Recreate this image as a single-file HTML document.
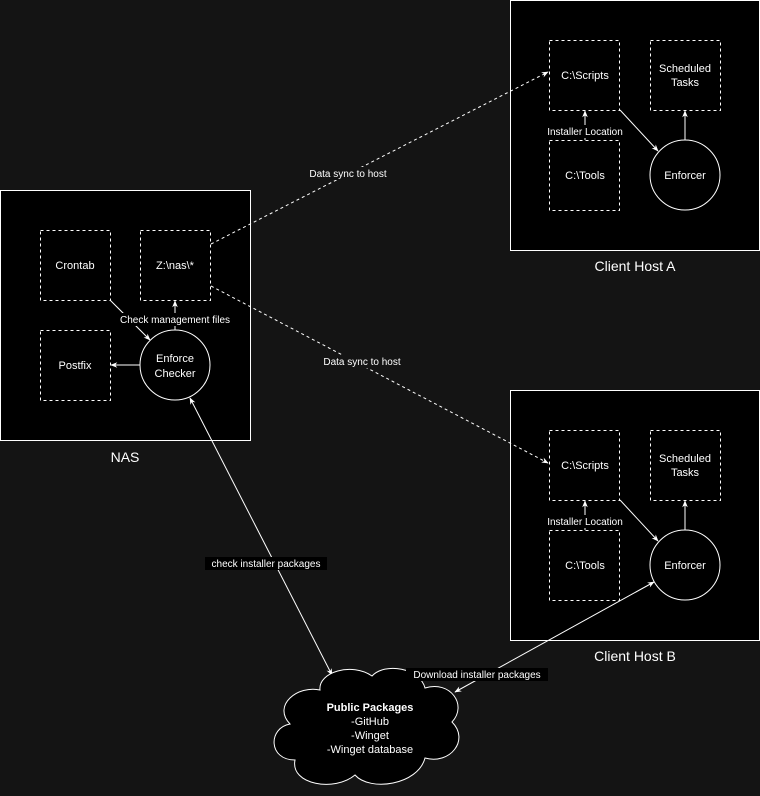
<!DOCTYPE html>
<html><head><style>
html,body{margin:0;padding:0;background:#141414;}
svg{display:block;font-family:"Liberation Sans",Arial,sans-serif;}
</style></head><body>
<svg width="760" height="796" viewBox="0 0 760 796" xmlns="http://www.w3.org/2000/svg">
<defs>
<marker id="a" viewBox="0 0 10 10" refX="9" refY="5" markerWidth="7" markerHeight="7" orient="auto-start-reverse"><path d="M0,1 L10,5 L0,9 L3,5 z" fill="#fff"/></marker>
</defs>
<rect width="760" height="796" fill="#141414"/>
<g stroke="#fff" fill="#000">
<rect x="0.5" y="190.5" width="250" height="250"/>
<rect x="510.5" y="0.5" width="249" height="250"/>
<rect x="510.5" y="390.5" width="249" height="250"/>
</g>
<g stroke="#fff" fill="none" stroke-dasharray="3 3">
<rect x="40.5" y="230.5" width="70" height="70"/>
<rect x="140.5" y="230.5" width="70" height="70"/>
<rect x="40.5" y="330.5" width="70" height="70"/>
<rect x="549.5" y="40.5" width="70" height="70"/>
<rect x="650.5" y="40.5" width="70" height="70"/>
<rect x="549.5" y="140.5" width="70" height="70"/>
<rect x="549.5" y="430.5" width="70" height="70"/>
<rect x="650.5" y="430.5" width="70" height="70"/>
<rect x="549.5" y="530.5" width="70" height="70"/>
</g>
<g stroke="#fff" fill="#000">
<circle cx="175" cy="365" r="35"/>
<circle cx="685" cy="175" r="35"/>
<circle cx="685" cy="565" r="35"/>
</g>
<!-- dashed sync lines -->
<g stroke="#fff" fill="none" stroke-dasharray="3 3">
<line x1="211" y1="244" x2="548" y2="72" marker-end="url(#a)"/>
<line x1="211" y1="286" x2="548" y2="463" marker-end="url(#a)"/>
</g>
<g stroke="#fff" fill="none">
<line x1="110" y1="300" x2="150" y2="340" marker-end="url(#a)"/>
<line x1="175" y1="330" x2="175" y2="301" marker-end="url(#a)"/>
<line x1="140" y1="365" x2="111" y2="365" marker-end="url(#a)"/>
<line x1="585" y1="140" x2="585" y2="111" marker-end="url(#a)"/>
<line x1="620" y1="110" x2="658" y2="151" marker-end="url(#a)"/>
<line x1="685" y1="140" x2="685" y2="111" marker-end="url(#a)"/>
<line x1="585" y1="530" x2="585" y2="501" marker-end="url(#a)"/>
<line x1="620" y1="500" x2="658" y2="541" marker-end="url(#a)"/>
<line x1="685" y1="530" x2="685" y2="501" marker-end="url(#a)"/>
<line x1="190" y1="398" x2="332" y2="675" marker-start="url(#a)" marker-end="url(#a)"/>
<line x1="654" y1="582" x2="455" y2="692" marker-start="url(#a)" marker-end="url(#a)"/>
</g>
<!-- cloud -->
<path d="M320,690 C318,672 352,662 372,676 C385,662 420,668 425,688 C450,680 468,705 452,722 C470,740 450,765 425,758 C418,785 370,792 355,775 C335,792 290,785 295,760 C268,760 268,728 290,724 C272,705 298,685 320,690 Z" fill="#000" stroke="#fff"/>
<g fill="#fff" font-size="11" text-anchor="middle">
<text x="75" y="269">Crontab</text>
<text x="175" y="269">Z:\nas\*</text>
<text x="75" y="369">Postfix</text>
<text x="175" y="362">Enforce</text>
<text x="175" y="377">Checker</text>
<text x="585" y="79">C:\Scripts</text>
<text x="685" y="72">Scheduled</text>
<text x="685" y="86">Tasks</text>
<text x="585" y="179">C:\Tools</text>
<text x="685" y="179">Enforcer</text>
<text x="585" y="469">C:\Scripts</text>
<text x="685" y="462">Scheduled</text>
<text x="685" y="476">Tasks</text>
<text x="585" y="569">C:\Tools</text>
<text x="685" y="569">Enforcer</text>
<text x="370" y="711" font-weight="bold">Public Packages</text>
<text x="370" y="725">-GitHub</text>
<text x="370" y="739">-Winget</text>
<text x="370" y="753">-Winget database</text>
<text x="125" y="462" font-size="14">NAS</text>
<text x="635" y="271" font-size="14">Client Host A</text>
<text x="635" y="661" font-size="14">Client Host B</text>
</g>
<!-- edge labels -->
<g font-size="10" text-anchor="middle">
<rect x="112" y="313" width="126" height="13" fill="#000"/>
<text x="175" y="323" fill="#fff">Check management files</text>
<rect x="542" y="125" width="86" height="13" fill="#000"/>
<text x="585" y="135" fill="#fff">Installer Location</text>
<rect x="542" y="515" width="86" height="13" fill="#000"/>
<text x="585" y="525" fill="#fff">Installer Location</text>
<rect x="304" y="167" width="88" height="13" fill="#141414"/>
<text x="348" y="177" fill="#fff">Data sync to host</text>
<rect x="318" y="355" width="88" height="13" fill="#141414"/>
<text x="362" y="365" fill="#fff">Data sync to host</text>
<rect x="205" y="557" width="122" height="13" fill="#000"/>
<text x="266" y="567" fill="#fff">check installer packages</text>
<rect x="406" y="668" width="142" height="13" fill="#000"/>
<text x="477" y="678" fill="#fff">Download installer packages</text>
</g>
</svg>
</body></html>
